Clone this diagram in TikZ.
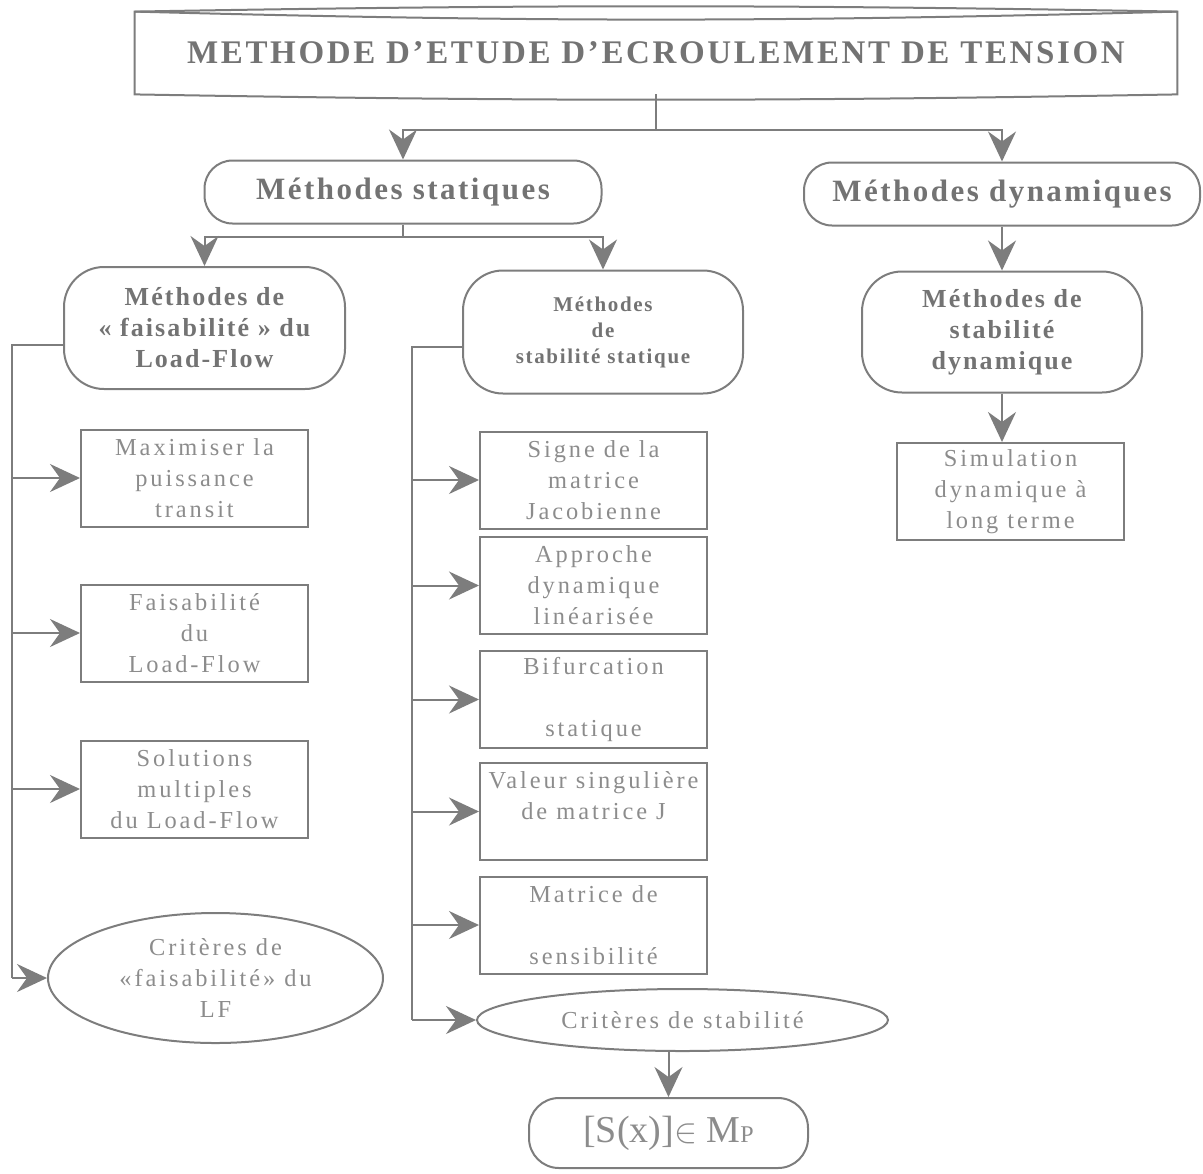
\documentclass[tikz,border=0pt]{standalone}
\usepackage{fontspec}
\setmainfont{Liberation Serif}
\newfontfamily\spc[LetterSpace=12]{Liberation Serif}
\newfontfamily\spcb[LetterSpace=8]{Liberation Serif}
\usetikzlibrary{arrows.meta,shapes.geometric}
\definecolor{linegray}{RGB}{125,125,125}
\definecolor{txtgray}{RGB}{140,140,140}
\definecolor{boldgray}{RGB}{115,115,115}
\begin{document}
\begin{tikzpicture}
[x=0.5pt,y=-0.5pt,
wire/.style={draw=linegray,line width=1pt},
arr/.style={wire,-{Stealth[length=15pt,width=14pt,inset=5pt]}},
box/.style={wire,rectangle,minimum width=113.5pt,minimum height=48.5pt,inner sep=0pt,align=center,text=txtgray,font=\spc\fontsize{12.2}{15.5}\selectfont},
rbox/.style={wire,rounded corners=20pt,inner sep=0pt,align=center,text=boldgray},
oval/.style={wire,ellipse,inner sep=0pt,align=center,text=txtgray,font=\spc\fontsize{12.2}{15.5}\selectfont}]
\useasboundingbox (0,0) rectangle (1203,1173);
\node[minimum width=521pt,minimum height=41pt,inner sep=0pt,text=boldgray,font=\spcb\bfseries\fontsize{16.5}{20}\selectfont] (title) at (656,53) {METHODE D’ETUDE D’ECROULEMENT DE TENSION};
\draw[wire] (title.north west) to[bend left=1] (title.north east) -- (title.south east) to[bend left=1] (title.south west) -- cycle;
\draw[wire] (title.north west) to[bend right=1.5] (title.north east);
\node[rbox,rounded corners=14pt,minimum width=198.5pt,minimum height=31.5pt,font=\spcb\bfseries\fontsize{15.5}{18}\selectfont] (stat) at (403,192) {Méthodes statiques};
\node[rbox,rounded corners=14pt,minimum width=198pt,minimum height=31.5pt,font=\spcb\bfseries\fontsize{15.5}{18}\selectfont] (dyn) at (1002,194) {Méthodes dynamiques};
\node[rbox,minimum width=140.5pt,minimum height=61pt,font=\spcb\bfseries\fontsize{13}{15.5}\selectfont] (faisa) at (204.5,328) {Méthodes de\\« faisabilité » du\\Load-Flow};
\node[rbox,minimum width=140pt,minimum height=61.5pt,font=\spcb\bfseries\fontsize{10.5}{13}\selectfont] (stabst) at (603,332) {Méthodes\\de\\stabilité statique};
\node[rbox,minimum width=140pt,minimum height=60.5pt,font=\spcb\bfseries\fontsize{13}{15.5}\selectfont] (stabdyn) at (1002,332) {Méthodes de\\stabilité\\dynamique};
\node[box] (simu) at (1010.5,491.5) {Simulation\\dynamique à\\long terme};
\node[box] (maxi) at (194.5,478) {Maximiser la\\puissance\\transit};
\node[box] (faislf) at (194.5,633) {Faisabilité\\du\\Load-Flow};
\node[box] (solu) at (194.5,789) {Solutions\\multiples\\du Load-Flow};
\node[oval,minimum width=167.5pt,minimum height=65pt] (critlf) at (215.5,978) {Critères de\\«faisabilité» du\\LF};
\node[box] (signe) at (593.5,480) {Signe de la\\matrice\\Jacobienne};
\node[box] (appro) at (593.5,585.5) {Approche\\dynamique\\linéarisée};
\node[box] (bifur) at (593.5,699.5) {Bifurcation\\\mbox{}\\statique};
\node[box] (valeur) at (593.5,811.5) {Valeur singulière\\de matrice J\\\mbox{}};
\node[box] (matsens) at (593.5,925) {Matrice de\\\mbox{}\\sensibilité};
\node[oval,minimum width=205.5pt,minimum height=31pt] (critst) at (682.5,1020) {Critères de stabilité};
\node[rbox,rounded corners=15pt,minimum width=139.5pt,minimum height=35pt,text=txtgray,font=\fontsize{19}{22}\selectfont] (sx) at (668.5,1133) {[S(x)]$\in$ M{\fontsize{12}{14}\selectfont P}};
\coordinate (s1) at (656,130);
\coordinate (s2) at (403,237);
\coordinate (busl) at (12,345);
\coordinate (busm) at (412,347);
\draw[arr] (title.south) -- (s1) -| (stat);
\draw[arr] (s1) -| (dyn);
\draw[wire] (stat.south) -- (s2);
\draw[arr] (s2) -| (faisa);
\draw[arr] (s2) -| (stabst);
\draw[arr] (dyn) -- (stabdyn);
\draw[arr] (stabdyn) -- (stabdyn |- simu.north);
\draw[arr] (critst.south -| sx) -- (sx);
\draw[wire] (faisa.west |- busl) -- (busl) -- (busl |- critlf);
\foreach \n in {maxi,faislf,solu,critlf} \draw[arr] (busl |- \n) -- (\n);
\draw[wire] (stabst.west |- busm) -- (busm) -- (busm |- critst);
\foreach \n in {signe,appro,bifur,valeur,matsens,critst} \draw[arr] (busm |- \n) -- (\n);
\end{tikzpicture}
\end{document}
